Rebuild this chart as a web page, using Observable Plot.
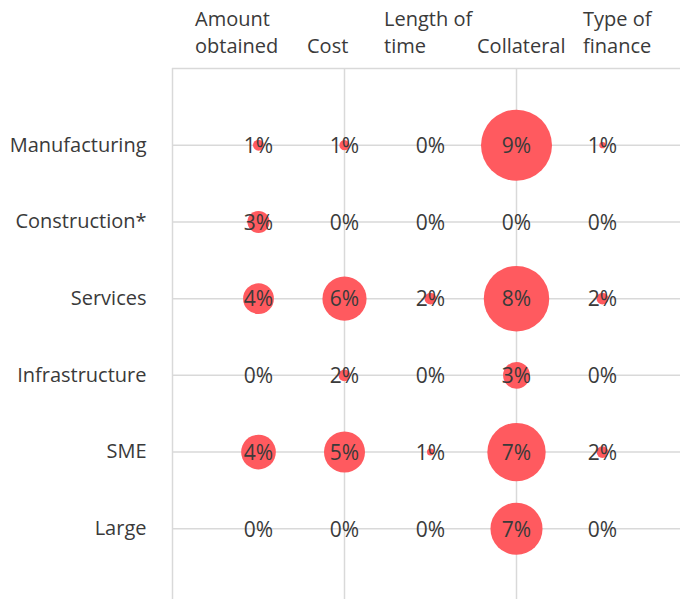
<!DOCTYPE html>
<html><head><meta charset="utf-8">
<script src="https://cdn.jsdelivr.net/npm/d3@7"></script>
<script src="https://cdn.jsdelivr.net/npm/@observablehq/plot@0.6"></script>
<style>
html,body{margin:0;padding:0;background:#fff;overflow:hidden;width:680px;height:599px;}
#header{position:relative;height:67px;font-family:"Segoe UI","Open Sans",sans-serif;font-size:20px;color:#3a3a3a;line-height:27px;}
#header div{position:absolute;top:5px;white-space:nowrap;text-align:left;}
#chart svg{display:block;}
</style></head><body>
<div id="chart"><div id="header"></div></div>
<script>
// Categories (rows, top to bottom)
const rows = ["Manufacturing", "Construction*", "Services", "Infrastructure", "SME", "Large"];
// Columns (header lines)
const columns = ["Amount obtained", "Cost", "Length of time", "Collateral", "Type of finance"];
const headerLines = [["Amount", "obtained"], ["", "Cost"], ["Length of", "time"], ["", "Collateral"], ["Type of", "finance"]];
// Series values (% of firms), one array per column, in row order
const amountObtained = [1.4, 2.8, 3.9, 0, 4.4, 0];
const cost           = [1.3, 0,   5.6, 1.5, 5.2, 0];
const lengthOfTime   = [0,   0,   1.5, 0,   0.9, 0];
const collateral     = [9.0, 0,   8.3, 3.4, 7.4, 6.6];
const typeOfFinance  = [0.8, 0,   1.5, 0,   1.5, 0];
const series = [amountObtained, cost, lengthOfTime, collateral, typeOfFinance];

// layout (not data)
const headerLeft = [195, 307, 384, 477, 583];
const font = '"Segoe UI","Open Sans",sans-serif';

const header = document.getElementById("header");
headerLines.forEach((lines, j) => {
  const d = document.createElement("div");
  d.style.left = headerLeft[j] + "px";
  d.innerHTML = lines.map(l => l === "" ? "&nbsp;" : l).join("<br>");
  header.appendChild(d);
});

const cells = rows.flatMap((row, i) => columns.map((col, j) => ({
  row, col, xi: j + 1, yi: rows.length - i, value: series[j][i]
})));

const chart = Plot.plot({
  width: 680,
  height: 532,
  marginLeft: 172,
  marginRight: 0,
  marginTop: 1,
  marginBottom: 0,
  style: {fontFamily: font, fontSize: "20px", color: "#3a3a3a", background: "#fff"},
  x: {domain: [0, 6], range: [172, 688], axis: null},
  y: {domain: [0, 7], range: [538, 1], axis: null},
  r: {type: "linear", domain: [0, 9], range: [0, 35.5]},
  marks: [
    Plot.ruleX([0, 2, 4], {stroke: "#d9d9d9", strokeWidth: 1.5}),
    Plot.ruleY([1, 2, 3, 4, 5, 6, 7], {x1: 0, x2: 6, stroke: "#d9d9d9", strokeWidth: 1.5}),
    Plot.dot(cells, {x: "xi", y: "yi", r: "value", fill: "#ff5a5f", stroke: null}),
    Plot.text(cells, {x: "xi", y: "yi", text: d => Math.round(d.value) + "%", fontSize: 21, fill: "#3a3a3a", dy: 1}),
    Plot.axisY({ticks: [1, 2, 3, 4, 5, 6], tickFormat: d => rows[rows.length - d], tickSize: 0, tickPadding: 26, fontSize: 20, label: null, anchor: "left", fill: "#3a3a3a"})
  ]
});
document.getElementById("chart").appendChild(chart);
</script>
</body></html>
